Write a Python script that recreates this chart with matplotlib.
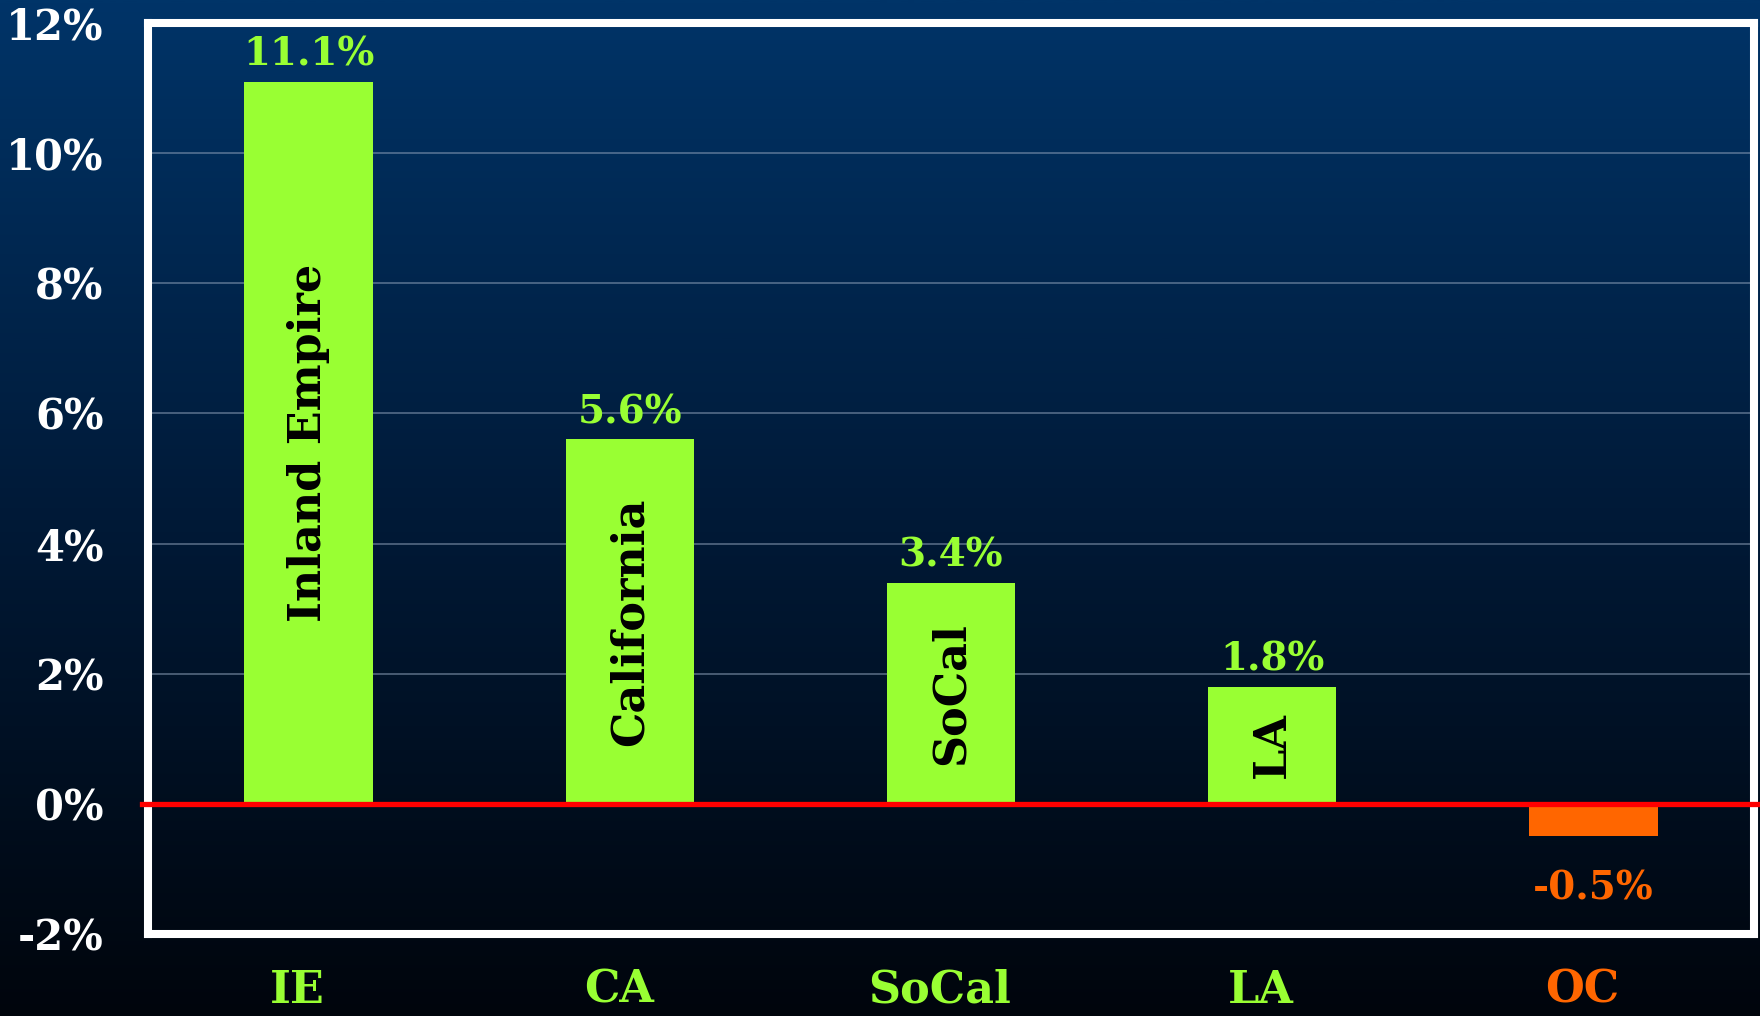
import numpy as np
import matplotlib
matplotlib.use("Agg")
import matplotlib.pyplot as plt
from matplotlib.colors import LinearSegmentedColormap
import matplotlib.transforms as mtrans

# ---- data ----
categories = ["IE", "CA", "SoCal", "LA", "OC"]
bar_names = ["Inland Empire", "California", "SoCal", "LA", ""]
values = [11.1, 5.6, 3.4, 1.8, -0.5]
value_labels = ["11.1%", "5.6%", "3.4%", "1.8%", "-0.5%"]
yticks = [-2, 0, 2, 4, 6, 8, 10, 12]
ytick_labels = ["-2%", "0%", "2%", "4%", "6%", "8%", "10%", "12%"]

GREEN = "#99ff33"
ORANGE = "#ff6600"
FONT = "DejaVu Serif"

fig = plt.figure(figsize=(17.6, 10.16), dpi=100)

# background gradient
bg = fig.add_axes([0, 0, 1, 1], zorder=0)
cmap = LinearSegmentedColormap.from_list("bg", ["#003468", "#001a38", "#00050c"])
grad = np.linspace(0, 1, 512).reshape(-1, 1)
bg.imshow(grad, aspect="auto", cmap=cmap, extent=[0, 1, 0, 1], origin="upper")
bg.set_axis_off()

ax = fig.add_axes([148 / 1760, 1 - 934 / 1016, (1754 - 148) / 1760, (934 - 23) / 1016], zorder=1)
ax.set_facecolor("none")

x = np.arange(len(categories))
colors = [GREEN if v >= 0 else ORANGE for v in values]
ax.bar(x, values, width=0.4, color=colors, zorder=2)

ax.set_xlim(-0.5, len(categories) - 0.5)
ax.set_ylim(-2, 12)
ax.set_yticks(yticks)
ax.set_yticklabels(ytick_labels)
ax.set_xticks(x)
ax.set_xticklabels([])

for lbl in ax.get_yticklabels():
    lbl.set_color("white")
    lbl.set_fontfamily(FONT)
    lbl.set_fontweight("bold")
    lbl.set_fontsize(30)

ax.tick_params(axis="y", length=0, pad=32)
ax.tick_params(axis="x", length=0)

# category labels below the axes
cat_trans = mtrans.blended_transform_factory(ax.transData, ax.transAxes) + \
    mtrans.ScaledTranslation(-11 / 100, 0, fig.dpi_scale_trans)
for xi, cat, c in zip(x, categories, colors):
    ax.text(xi, -0.062, cat, transform=cat_trans, ha="center", va="center",
            color=c, fontsize=32, fontweight="bold", family=FONT, clip_on=False)

# grid
for yv in yticks:
    if 0 < yv < 12:
        ax.axhline(yv, color="#8ea0b8", alpha=0.55, lw=1.3, zorder=1)

# zero line
ax.axhline(0, xmin=-0.004, xmax=1.002, color="#ff0000", lw=3.8, zorder=4, clip_on=False)

for s in ax.spines.values():
    s.set_color("white")
    s.set_linewidth(5.8)
    s.set_zorder(3)

# value labels
for xi, v, t, c in zip(x, values, value_labels, colors):
    if v >= 0:
        ax.annotate(t, (xi, v), xytext=(0, 6), textcoords="offset points",
                    ha="center", va="bottom", color=c, fontsize=28,
                    fontweight="bold", family=FONT, zorder=5)
    else:
        ax.annotate(t, (xi, v), xytext=(0, -24), textcoords="offset points",
                    ha="center", va="top", color=c, fontsize=28,
                    fontweight="bold", family=FONT, zorder=5)

# names inside bars
for xi, v, n in zip(x, values, bar_names):
    if n:
        ax.text(xi, v / 2, n, rotation=90, ha="center", va="center",
                color="black", fontsize=32, fontweight="bold", family=FONT, zorder=5)

fig.savefig("out.png", dpi=100)
